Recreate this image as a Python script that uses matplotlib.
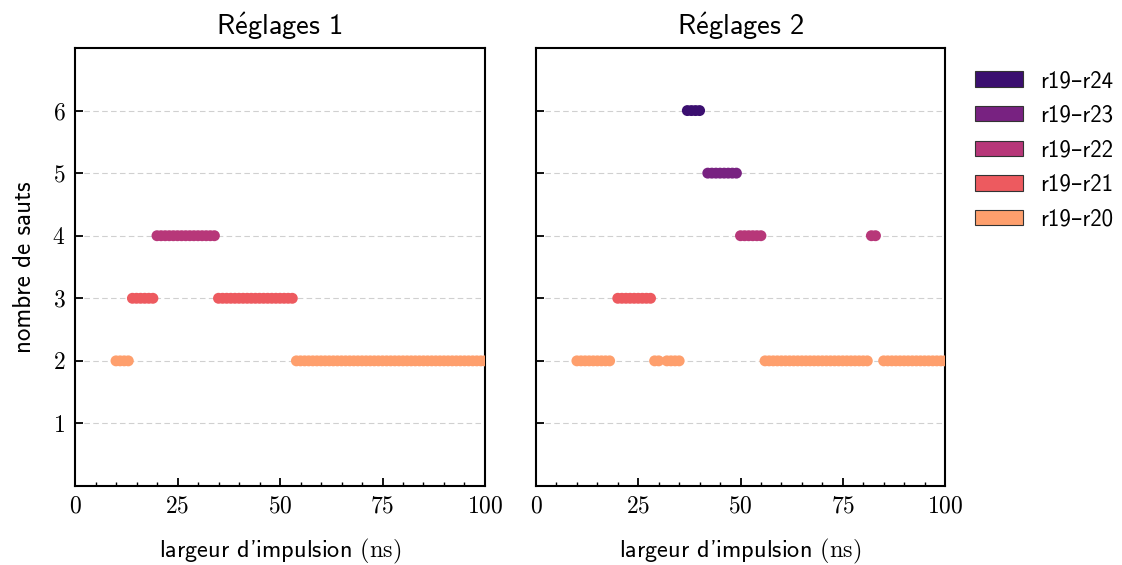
import numpy as np
import matplotlib
matplotlib.use("Agg")
import matplotlib.pyplot as plt
from matplotlib.patches import Patch
from matplotlib.ticker import MultipleLocator, FuncFormatter

plt.rcParams["font.family"] = ["cmss10", "DejaVu Sans"]
plt.rcParams["mathtext.fontset"] = "cm"
plt.rcParams["axes.unicode_minus"] = False

# Pulse widths scanned (ns)
pulse_widths = np.arange(0, 101, 1)

# Runs of constant jump count: (first width, last width, number of jumps)
settings_1 = [
    (10, 13, 2),
    (14, 19, 3),
    (20, 34, 4),
    (35, 53, 3),
    (54, 100, 2),
]
settings_2 = [
    (10, 18, 2),
    (20, 28, 3),
    (29, 30, 2),
    (32, 35, 2),
    (37, 40, 6),
    (42, 49, 5),
    (50, 55, 4),
    (56, 81, 2),
    (82, 83, 4),
    (85, 100, 2),
]

titles = [r"R$\mathsf{\acute{e}}$glages 1", r"R$\mathsf{\acute{e}}$glages 2"]
legend_labels = ["r19–r24", "r19–r23", "r19–r22", "r19–r21", "r19–r20"]
jump_levels = [6, 5, 4, 3, 2]

cmap = plt.get_cmap("magma")
level_colors = {lvl: cmap(v) for lvl, v in zip(jump_levels, np.linspace(0.2, 0.8, 5))}

math_num = FuncFormatter(lambda v, pos: f"${v:g}$")

fig = plt.figure(figsize=(11.22, 5.65), dpi=100)
ax1 = fig.add_axes([75 / 1122, 79 / 565, 410 / 1122, 438 / 565])
ax2 = fig.add_axes([536 / 1122, 79 / 565, 409 / 1122, 438 / 565], sharey=ax1)

for ax, runs, title in zip([ax1, ax2], [settings_1, settings_2], titles):
    for start, end, level in runs:
        xs = pulse_widths[(pulse_widths >= start) & (pulse_widths <= end)]
        ys = np.full(xs.shape, level)
        ax.scatter(xs, ys, s=62, color=level_colors[level], edgecolors="none",
                   zorder=3)
    ax.set_xlim(0, 100)
    ax.set_ylim(0, 7)
    ax.set_yticks([1, 2, 3, 4, 5, 6])
    ax.set_xticks([0, 25, 50, 75, 100])
    ax.xaxis.set_major_formatter(math_num)
    ax.yaxis.set_major_formatter(math_num)
    ax.xaxis.set_minor_locator(MultipleLocator(5))
    ax.grid(axis="y", linestyle=(0, (5, 3)), color="#d0d0d0", linewidth=0.8,
            zorder=0)
    ax.tick_params(axis="both", which="major", direction="in", length=6,
                   width=1.3, labelsize=17, pad=7)
    ax.tick_params(axis="x", which="minor", direction="in", length=3, width=1.0)
    ax.tick_params(axis="y", which="minor", left=False)
    for sp in ax.spines.values():
        sp.set_linewidth(1.5)
    ax.set_title(title, fontsize=20.5, pad=9)
    ax.set_xlabel(r"largeur d'impulsion $(\mathrm{ns})$", fontsize=17.5,
                  labelpad=14)

ax1.set_ylabel("nombre de sauts", fontsize=18, labelpad=12)
plt.setp(ax2.get_yticklabels(), visible=False)

handles = [Patch(facecolor=level_colors[lvl], edgecolor="#333333", linewidth=0.8)
           for lvl in jump_levels]
fig.legend(handles, legend_labels, loc="upper left",
           bbox_to_anchor=(954 / 1122, 1 - 49.5 / 565), frameon=False,
           fontsize=16.5, handlelength=2.1, handleheight=0.65,
           labelspacing=0.55, handletextpad=0.74)

fig.savefig("out.png", dpi=100)
